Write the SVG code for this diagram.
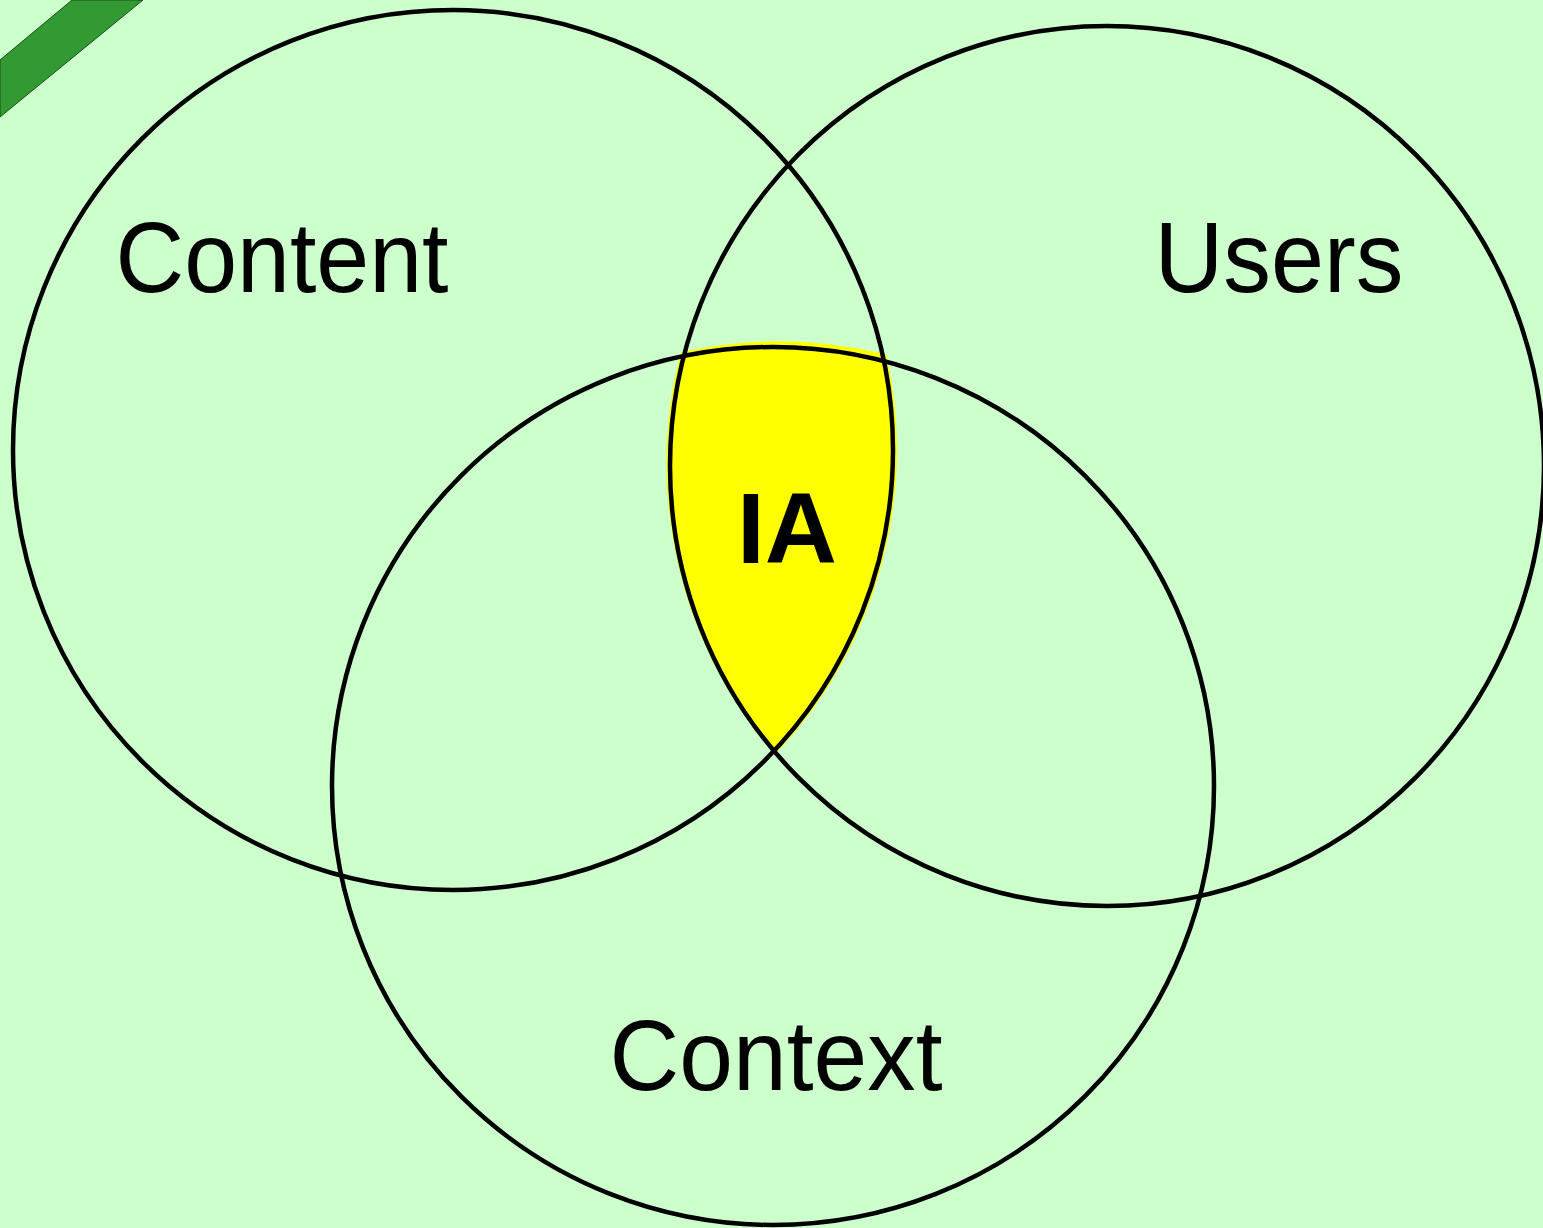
<svg xmlns="http://www.w3.org/2000/svg" width="1543" height="1228" viewBox="0 0 1543 1228">
<style>
.ring{fill:none;stroke:#000;stroke-width:4.5}
.lbl{font-family:"Liberation Sans",Arial,sans-serif;font-size:100px;fill:#000;text-anchor:middle}
.bold{font-weight:bold}
</style>
<rect x="0" y="0" width="1543" height="1228" fill="#CCFFCC"/>
<polygon points="0,60 72,0 143,0 0,117" fill="#339933" stroke="#1a4d1a" stroke-width="1"/>
<g id="ia-region">
<path d="M 683 355 A 441 439 0 0 1 884 357 A 440 440 0 0 1 775 750 A 437 440 0 0 1 683 355 Z" fill="#FFFF00" stroke="#FFFF00" stroke-width="6" stroke-linejoin="round"/>
</g>
<g id="content">
<ellipse class="ring" cx="453" cy="450" rx="440" ry="440"/>
<text class="lbl" x="282" y="292" textLength="333" lengthAdjust="spacingAndGlyphs">Content</text>
</g>
<g id="users">
<ellipse class="ring" cx="1107" cy="466" rx="437" ry="440"/>
<text class="lbl" x="1279" y="292" textLength="249" lengthAdjust="spacingAndGlyphs">Users</text>
</g>
<g id="context">
<ellipse class="ring" cx="773" cy="786" rx="441" ry="439"/>
<text class="lbl" x="776" y="1090" textLength="333" lengthAdjust="spacingAndGlyphs">Context</text>
</g>
<g id="ia">
<text class="lbl bold" x="787" y="563">IA</text>
</g>
</svg>
